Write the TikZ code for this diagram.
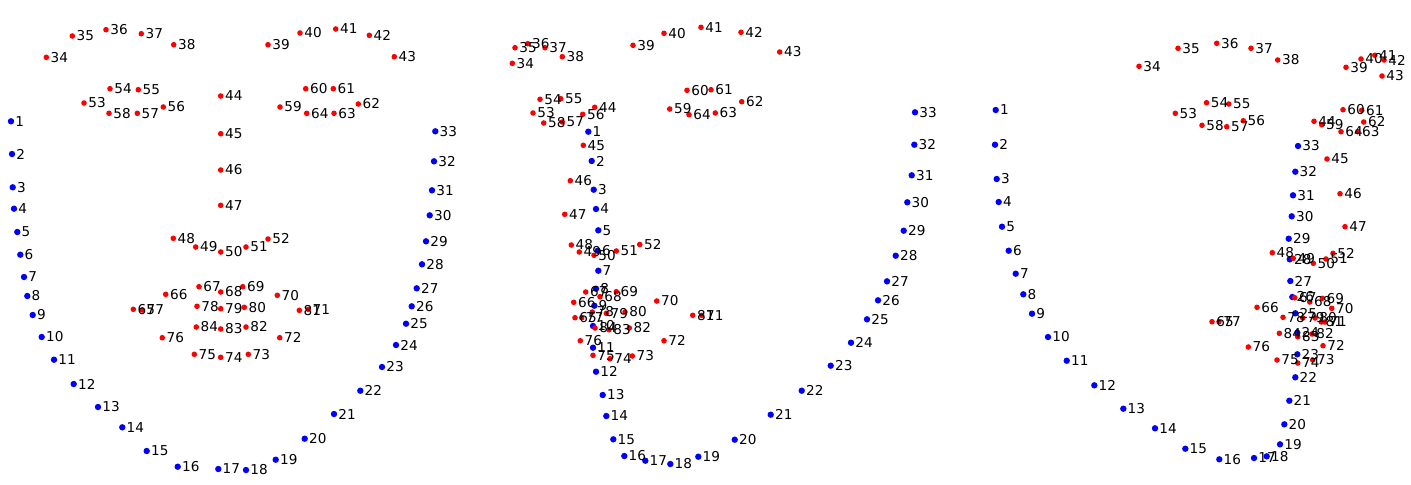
\documentclass[tikz,border=0pt]{standalone}
\usepackage{fontspec}
\setmainfont{DejaVu Sans}

% landmark positions in pixels (x right, y down)
\newcommand{\contourA}{1/11/121.3, 2/12/154, 3/12.7/187.3, 4/14/208.7, 5/17.3/232,
 6/20.3/254.7, 7/24/277, 8/27.3/296, 9/32.7/315, 10/41.7/337, 11/54/359.7,
 12/73.7/384, 13/98/407, 14/122.3/427.3, 15/146.7/451, 16/177.7/466.7,
 17/218.3/469, 18/246/470, 19/275.7/459.7, 20/304.7/438.7, 21/334/414,
 22/360.3/390.7, 23/382/367, 24/396/345, 25/406/323.7, 26/411.7/306.3,
 27/416.7/288.3, 28/422/264.3, 29/426/241.3, 30/429.7/215.3, 31/432/190.3,
 32/434/161.3, 33/435.3/131.3}
\newcommand{\featA}{34/46.3/57.3, 35/72.3/36, 36/106/29.7, 37/141.3/33.7,
 38/173.7/44.7, 39/268/44.7, 40/300/33, 41/335.7/29, 42/369.3/35.3, 43/394.3/56.7,
 44/220.7/96, 45/220.7/133.7, 46/220.7/170, 47/220.7/205.3, 48/173.3/238.3,
 49/195.7/247, 50/220.7/252, 51/246/247, 52/268/239, 53/84/103, 54/110/88.7,
 55/138.3/89.7, 56/163.3/107, 57/137.3/113.3, 58/109/113.3, 59/280/107,
 60/305.7/88.7, 61/333.3/88.7, 62/358.3/104, 63/334/113.3, 64/306.7/113.3,
 65/133.3/309.3, 66/165.7/294.3, 67/199/286.7, 68/220.7/292, 69/242.7/286.7,
 70/277.3/295.3, 71/308.3/309.3, 72/279.7/337.7, 73/248.3/354.3, 74/220.7/357.3,
 75/194.3/354.3, 76/162.3/337.7, 77/142.3/310, 78/197/306.3, 79/220.7/308.7,
 80/244.3/307.3, 81/299.3/310.3, 82/246/327, 83/220.7/329, 84/196.3/327}

\newcommand{\contourB}{1/588.3/131.7, 2/591.7/161, 3/593.7/189.7, 4/596/209,
 5/598.3/230.3, 6/597.7/250.7, 7/598.3/270.7, 8/596/288.7, 9/594.3/305.7,
 10/593/326, 11/593/347.7, 12/596/371.7, 13/602.7/395, 14/606.3/416,
 15/613.3/439.3, 16/624.3/456, 17/645.3/460.7, 18/670.3/464, 19/698.3/456.7,
 20/734.7/439.7, 21/770.7/414.7, 22/801.7/390.7, 23/830.7/365.7, 24/851/342.7,
 25/867/319.3, 26/878/300.3, 27/887/281.3, 28/895.7/255.7, 29/903.7/230.7,
 30/907.3/202.3, 31/911.7/175.3, 32/914.3/144.7, 33/915/112.3}
\newcommand{\featB}{34/512.3/63.3, 35/515/47.7, 36/527.7/43.7, 37/545/47.7,
 38/562.3/56.7, 39/633/45.3, 40/664/33.3, 41/701/27.3, 42/741/32.3, 43/779.7/52,
 44/594.7/107.3, 45/583.3/145.3, 46/570.3/180.7, 47/564.7/214.3, 48/571.3/245,
 49/579.3/252, 50/594/255.3, 51/616.3/251, 52/639.7/244.5, 53/533/113,
 54/540/99.3, 55/560.7/98.7, 56/582.7/114.3, 57/562.3/122, 58/543.7/123,
 59/669.7/109, 60/687/90.3, 61/711/89.7, 62/741.7/101.7, 63/715.3/113,
 64/689/114.7, 65/575/317.7, 66/573.7/302.3, 67/585.7/292, 68/600/296.7,
 69/616.3/291.7, 70/656.7/301, 71/701.7/315.3, 72/664/340.7, 73/632.3/356,
 74/610/358.7, 75/593/355.3, 76/580.3/340.7, 77/581.7/317.7, 78/592.3/312,
 79/606.3/313.3, 80/625/312, 81/692.7/315.3, 82/629.3/328, 83/609/329.7,
 84/595/328}

\newcommand{\contourC}{1/995.7/110, 2/995/144.7, 3/996.7/179, 4/998.7/202,
 5/1002/226.7, 6/1008.7/250.7, 7/1015.7/273.7, 8/1023.3/294.3, 9/1032/313.7,
 10/1048/337, 11/1066.7/360.7, 12/1094.3/385.3, 13/1123.3/408.7, 14/1155/428.3,
 15/1185.3/448.7, 16/1219.3/459.3, 17/1254/458, 18/1266.7/456.3, 19/1280/444.3,
 20/1284.3/424.3, 21/1289.3/400.7, 22/1295.3/377.3, 23/1297.3/354.3,
 24/1297.3/332.7, 25/1295.3/313.3, 26/1292.3/297, 27/1290.3/281,
 28/1289.7/259.3, 29/1288.7/238.7, 30/1291.7/216.3, 31/1293/195.3,
 32/1295.3/171.7, 33/1298/146}
\newcommand{\featC}{34/1139/66.3, 35/1178/48.3, 36/1216.7/43.3, 37/1251/48.3,
 38/1277.7/60, 39/1346/67.3, 40/1361/59, 41/1374.7/55.3, 42/1384/60, 43/1382/76,
 44/1314/121.3, 45/1327/159, 46/1340/193.7, 47/1345/226.7, 48/1272.3/252.7,
 49/1293.3/258.3, 50/1313.3/263.3, 51/1326/259, 52/1333/253.3, 53/1175.3/113.3,
 54/1206.5/102.7, 55/1228.7/104, 56/1243.3/120.7, 57/1226.7/126.7,
 58/1202/125.3, 59/1321.7/124.7, 60/1343/109.7, 61/1361.7/110.3, 62/1363.7/122,
 63/1357.7/131.7, 64/1341/131.7, 65/1212/321.7, 66/1257/307.3, 67/1294.7/297.7,
 68/1309.7/302, 69/1322.3/298.3, 70/1331.7/308.3, 71/1325/322, 72/1323/345.7,
 73/1312.7/360, 74/1297.7/363, 75/1277/360, 76/1248.3/347, 77/1219/321.7,
 78/1283/317.3, 79/1302.7/318, 80/1315/318, 81/1321.3/322, 82/1312/334,
 83/1297.7/336.7, 84/1279.3/333.3}

\begin{document}
\begin{tikzpicture}[x=0.5pt,y=-0.5pt,
	bdot/.style={circle,fill=blue,inner sep=0pt,minimum size=3.2pt},
	rdot/.style={circle,fill=red,inner sep=0pt,minimum size=2.8pt},
	lbl/.style={anchor=west,inner sep=0pt,xshift=2pt,
		font=\fontsize{6.8}{8}\selectfont}]
	\useasboundingbox (0,0) rectangle (1411,484);

	% frontal face
	\foreach \n/\x/\y in \contourA \node[bdot] (a\n) at (\x,\y) {};
	\foreach \n/\x/\y in \featA \node[rdot] (a\n) at (\x,\y) {};
	% half turned
	\foreach \n/\x/\y in \contourB \node[bdot] (b\n) at (\x,\y) {};
	\foreach \n/\x/\y in \featB \node[rdot] (b\n) at (\x,\y) {};
	% profile
	\foreach \n/\x/\y in \contourC \node[bdot] (c\n) at (\x,\y) {};
	\foreach \n/\x/\y in \featC \node[rdot] (c\n) at (\x,\y) {};

	% numbers on top of the dots
	\foreach \n in {1,...,84}{
		\node[lbl] (la\n) at (a\n.center) {\n};
		\node[lbl] (lb\n) at (b\n.center) {\n};
		\node[lbl] (lc\n) at (c\n.center) {\n};
	}
\end{tikzpicture}
\end{document}
